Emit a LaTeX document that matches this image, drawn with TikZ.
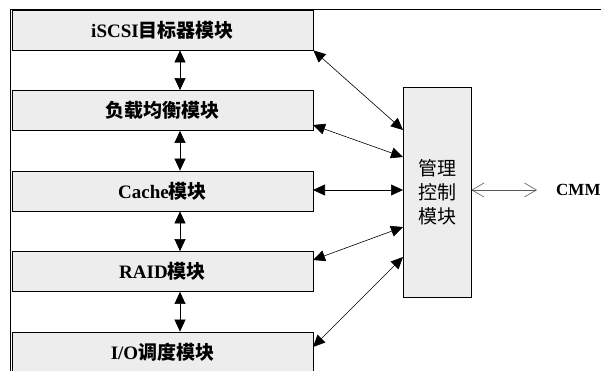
\documentclass[tikz,border=0pt]{standalone}
\usepackage{fontspec}
\setmainfont{Liberation Serif}
\newfontfamily\cjk{Noto Sans CJK SC}
\usetikzlibrary{arrows.meta}
\begin{document}
\begin{tikzpicture}[x=1pt,y=-1pt,
  modbox/.style={draw=black,line width=0.8pt,fill=gray!14,minimum width=301pt,minimum height=40pt,inner sep=0pt,font=\fontsize{19}{21}\selectfont\bfseries},
  mgbox/.style={draw=black,line width=0.8pt,fill=gray!14,minimum width=68pt,minimum height=210pt,inner sep=0pt,align=center,font=\fontsize{19}{24}\selectfont},
  link/.style={line width=0.6pt,{Triangle[length=12pt,width=11pt]}-{Triangle[length=12pt,width=11pt]}},
  cmmlink/.style={draw=gray!70!black,line width=0.6pt,{Straight Barb[length=12pt,width=14pt]}-{Straight Barb[length=12pt,width=14pt]}}]
\useasboundingbox (0,0) rectangle (601,370);
\clip (0,0) rectangle (601,370);
% frame lines
\draw[line width=1pt] (601,9.5) -- (10,9.5) -- (10,372);
% module boxes
\node[modbox] (b1) at (162.5,30) {iSCSI{\cjk 目标器模块}};
\node[modbox] (b2) at (162.5,110.5) {{\cjk 负载均衡模块}};
\node[modbox] (b3) at (162.5,191) {Cache{\cjk 模块}};
\node[modbox] (b4) at (162.5,271.5) {RAID{\cjk 模块}};
\node[modbox] (b5) at (162.5,352) {I/O{\cjk 调度模块}};
% management box
\node[mgbox] (m) at (437,192) {\cjk 管理\\\cjk 控制\\\cjk 模块};
\node[font=\fontsize{17}{19}\selectfont\bfseries,anchor=west,inner sep=0pt] (cmm) at (556,190) {CMM};
% vertical arrows
\foreach \a/\b in {b1/b2,b2/b3,b3/b4,b4/b5}
  \draw[link] ([xshift=17.5pt]\a.south) -- ([xshift=17.5pt]\b.north);
% coordinates on the management box
\coordinate (m1) at (403,130);
\coordinate (m2) at (403,157);
\coordinate (m3) at (403,190);
\coordinate (m4) at (403,227);
\coordinate (m5) at (403,257);
\coordinate (s2) at (313,125);
\coordinate (s3) at (313,190);
\coordinate (s4) at (313,260);
\coordinate (s5) at (313,347);
\draw[link] (b1.south east) -- (m1);
\draw[link] (s2) -- (m2);
\draw[link] (s3) -- (m3);
\draw[link] (s4) -- (m4);
\draw[link] (s5) -- (m5);
\coordinate (cmmw) at (537,190);
\draw[cmmlink] (m.east |- cmmw) -- (cmmw);
\end{tikzpicture}
\end{document}
